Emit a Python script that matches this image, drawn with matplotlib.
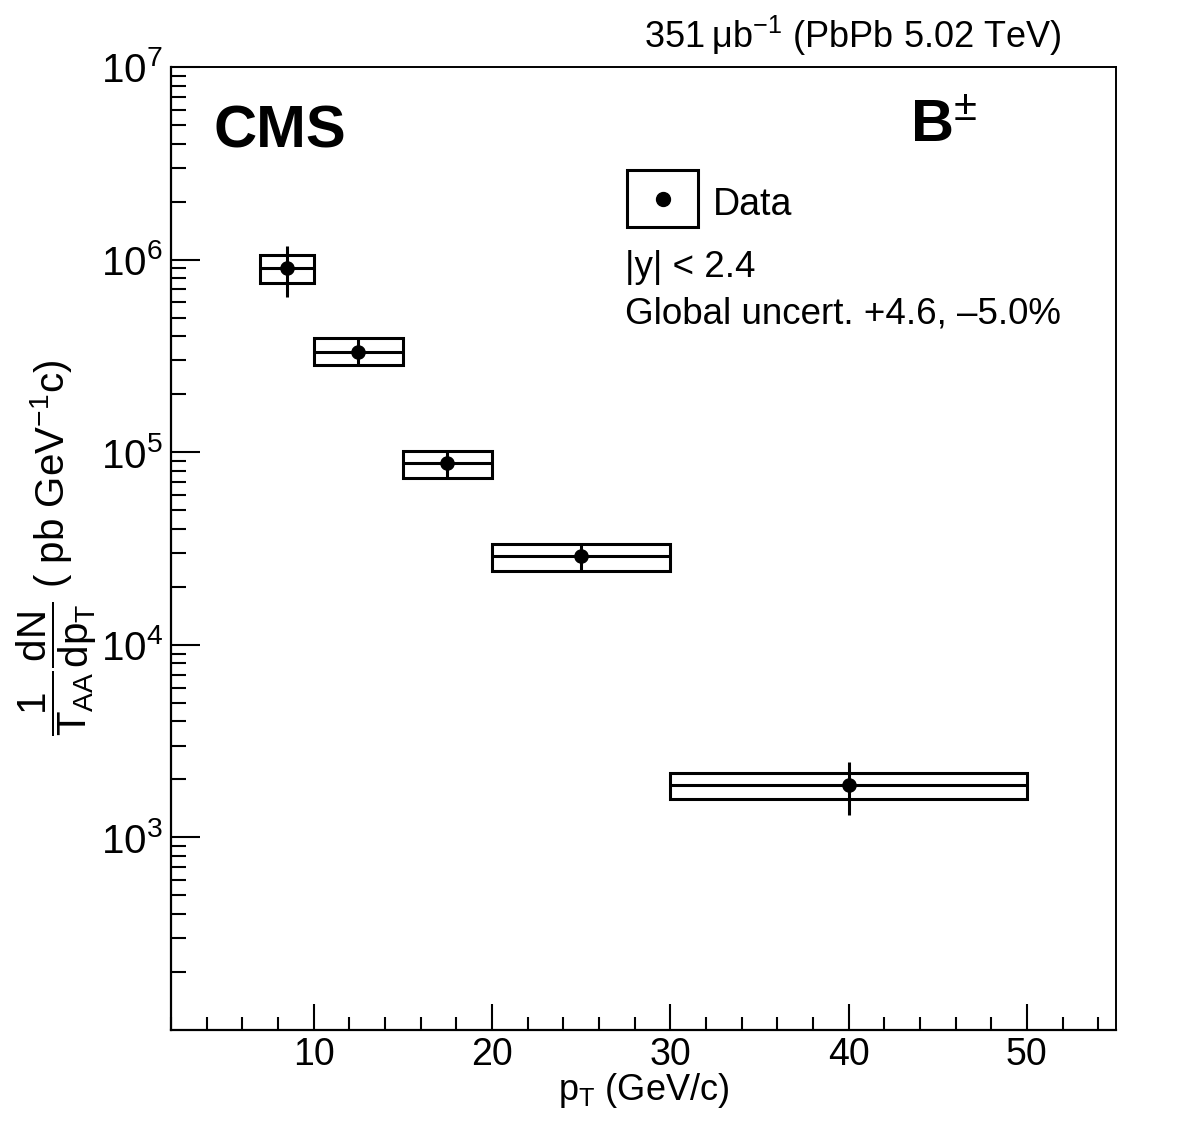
import matplotlib
matplotlib.use("Agg")
import matplotlib.pyplot as plt
from matplotlib.patches import Rectangle
from matplotlib.lines import Line2D
from matplotlib.ticker import LogLocator, MultipleLocator, NullFormatter, FixedLocator
import numpy as np

plt.rcParams['font.family'] = ['Liberation Sans', 'DejaVu Sans']
plt.rcParams['mathtext.fontset'] = 'custom'
plt.rcParams['mathtext.rm'] = 'Liberation Sans'
plt.rcParams['mathtext.it'] = 'Liberation Sans'
plt.rcParams['mathtext.bf'] = 'Liberation Sans:bold'
plt.rcParams['mathtext.sf'] = 'Liberation Sans'

# Data
pt_lo = [7, 10, 15, 20, 30]
pt_hi = [10, 15, 20, 30, 50]
pt_center = [8.5, 12.5, 17.5, 25, 40]
yield_val = [9.09e5, 3.33e5, 8.77e4, 2.89e4, 1.88e3]
stat_hi = [1.18e6, 3.85e5, 1.00e5, 3.30e4, 2.45e3]
stat_lo = [6.36e5, 2.86e5, 7.40e4, 2.45e4, 1.30e3]
syst_hi = [1.06e6, 3.90e5, 1.01e5, 3.34e4, 2.17e3]
syst_lo = [7.52e5, 2.82e5, 7.33e4, 2.42e4, 1.59e3]
xticks_major = [10, 20, 30, 40, 50]
yticks_major = [1e3, 1e4, 1e5, 1e6, 1e7]
ytick_labels = [r'$10^{3}$', r'$10^{4}$', r'$10^{5}$', r'$10^{6}$', r'$10^{7}$']

W, H = 1182, 1134
fig = plt.figure(figsize=(W / 100, H / 100), dpi=100)
ax = fig.add_axes([171 / W, 1 - 1030 / H, (1116 - 171) / W, (1030 - 67) / H])

ax.set_xscale('linear')
ax.set_yscale('log')
ax.set_xlim(2, 55)
ax.set_ylim(100, 1e7)

lw = 2.2
# systematic boxes
lo = np.array(syst_lo)
hi = np.array(syst_hi)
widths = np.array(pt_hi) - np.array(pt_lo)
ax.bar(pt_lo, hi - lo, width=widths, bottom=lo, align='edge', fill=False,
       edgecolor='black', linewidth=lw, zorder=2)

# data points with stat errors and bin widths
yv = np.array(yield_val)
yerr = [yv - np.array(stat_lo), np.array(stat_hi) - yv]
xc = np.array(pt_center)
xerr = [xc - np.array(pt_lo), np.array(pt_hi) - xc]
ax.errorbar(xc, yv, xerr=xerr, yerr=yerr, fmt='o', color='black', markersize=9.5,
            elinewidth=lw, capsize=0, zorder=3)

# axes styling
for s in ['top', 'right']:
    ax.spines[s].set_linewidth(1.4)
for s in ['left', 'bottom']:
    ax.spines[s].set_linewidth(1.6)

ax.xaxis.set_major_locator(FixedLocator(xticks_major))
ax.xaxis.set_minor_locator(MultipleLocator(2))
ax.set_xticklabels([str(v) for v in xticks_major])
ax.yaxis.set_major_locator(FixedLocator(yticks_major))
ax.set_yticklabels(ytick_labels)
ax.yaxis.set_minor_locator(LogLocator(base=10, subs=np.arange(2, 10)))
ax.yaxis.set_minor_formatter(NullFormatter())

ax.tick_params(axis='x', which='major', direction='in', length=19, width=1.5,
               labelsize=27, pad=5, top=False)
ax.tick_params(axis='x', which='minor', direction='in', length=9.5, width=1.5, top=False)
ax.tick_params(axis='y', which='major', direction='in', length=21, width=1.5,
               labelsize=29, pad=6, right=False)
ax.tick_params(axis='y', which='minor', direction='in', length=10.5, width=1.5, right=False)

fig.text(644 / W, 1 - 1100 / H, r'p$_{\mathrm{T}}$ (GeV/c)', ha='center', va='baseline',
         fontsize=26)

fig.text(57 / W, 1 - 548 / H,
         r'$\dfrac{1}{\mathrm{T}_{\mathrm{AA}}}\dfrac{\mathrm{dN}}{\mathrm{dp}_{\mathrm{T}}}$ ( pb GeV$^{-1}$c)',
         rotation=90, ha='center', va='center', fontsize=29)

# annotations
fig.text(1062 / W, 1 - 48 / H, '351\u2009μb$^{-1}$ (PbPb 5.02 TeV)', ha='right', va='baseline',
         fontsize=26)
fig.text(214 / W, 1 - 148 / H, 'CMS', ha='left', va='baseline', fontsize=43, fontweight='bold')
fig.text(910 / W, 1 - 143 / H, r'$\mathbf{B}^{\pm}$', ha='left', va='baseline', fontsize=43)

# legend
fig.patches.append(Rectangle((627 / W, 1 - 227 / H), 71 / W, 57 / H, transform=fig.transFigure,
                             fill=False, edgecolor='black', linewidth=lw))
fig.lines.append(Line2D([663 / W], [1 - 199 / H], transform=fig.transFigure, marker='o',
                        color='black', markersize=10))
fig.text(713 / W, 1 - 215 / H, 'Data', ha='left', va='baseline', fontsize=27)
fig.text(625 / W, 1 - 277 / H, '|y| < 2.4', ha='left', va='baseline', fontsize=26.5)
fig.text(625 / W, 1 - 323 / H, 'Global uncert. +4.6, \u20135.0%', ha='left', va='baseline', fontsize=26.5)

fig.savefig('out.png', dpi=100)
